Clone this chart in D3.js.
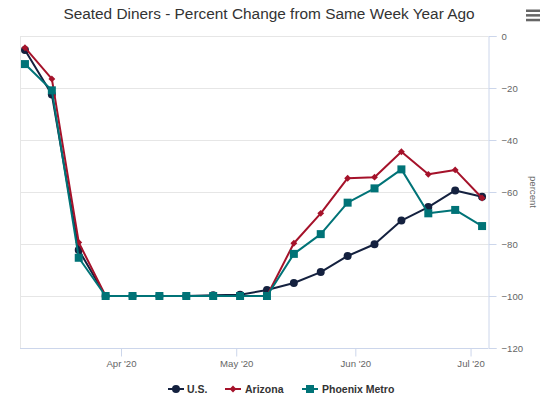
<!DOCTYPE html>
<html>
<head>
<meta charset="utf-8">
<script src="https://cdn.jsdelivr.net/npm/d3@7"></script>
<style>
  html, body { margin: 0; padding: 0; background: #fff; }
  svg { display: block; font-family: "Liberation Sans", Arial, sans-serif; }
</style>
</head>
<body>
<svg id="chart" width="548" height="400"></svg>
<script>
const weeks = ["2020-03-07","2020-03-14","2020-03-21","2020-03-28","2020-04-04","2020-04-11","2020-04-18","2020-04-25","2020-05-02","2020-05-09","2020-05-16","2020-05-23","2020-05-30","2020-06-06","2020-06-13","2020-06-20","2020-06-27","2020-07-04"];
const usValues      = [-5.4, -22.5, -82.3, -100, -100, -100, -100, -99.7, -99.5, -97.7, -95, -90.8, -84.6, -80.1, -71, -65.8, -59.4, -61.8];
const arizonaValues = [-4.5, -16.5, -79.4, -100, -100, -100, -100, -100, -100, -100, -79.7, -68.2, -54.7, -54.3, -44.5, -53.2, -51.5, -62.3];
const phoenixValues = [-10.8, -20.9, -85.3, -100, -100, -100, -100, -100, -100, -100, -83.8, -76.2, -64.1, -58.6, -51.3, -68.2, -66.9, -73.1];
const seriesNames = ["U.S.", "Arizona", "Phoenix Metro"];
const yTicks = [0, -20, -40, -60, -80, -100, -120];
const xTickDates = ["2020-04-01","2020-05-01","2020-06-01","2020-07-01"];
const titleText = "Seated Diners - Percent Change from Same Week Year Ago";
const yAxisTitle = "percent";

const colors = ["#14213f", "#a5122a", "#007377"];
const symbols = ["circle", "diamond", "square"];

const parse = d3.timeParse("%Y-%m-%d");
const dates = weeks.map(parse);
const series = [usValues, arizonaValues, phoenixValues].map((vals, i) => ({
  name: seriesNames[i], color: colors[i], symbol: symbols[i],
  points: vals.map((v, j) => ({ date: dates[j], value: v }))
}));

const svg = d3.select("#chart");
const pLeft = 20, pRight = 488, pTop = 36, pBottom = 348;
const labelFont = 9.6;

const x = d3.scaleTime()
  .domain([new Date(2020, 2, 5, 17), new Date(2020, 6, 5, 13)])
  .range([pLeft, pRight]);
const y = d3.scaleLinear().domain([-120, 0]).range([pBottom, pTop]);

// title
svg.append("text")
  .attr("x", 269).attr("y", 19)
  .attr("text-anchor", "middle")
  .attr("font-size", 15.4).attr("fill", "#333")
  .text(titleText);

// hamburger
[10.7, 15.3, 20].forEach(yy => {
  svg.append("rect").attr("x", 526).attr("y", yy - 1.2).attr("width", 14).attr("height", 2.5).attr("fill", "#666");
});

// gridlines
svg.append("g").selectAll("line").data(yTicks).join("line")
  .attr("x1", pLeft).attr("x2", pRight)
  .attr("y1", d => Math.round(y(d)) + 0.5).attr("y2", d => Math.round(y(d)) + 0.5)
  .attr("stroke", "#e6e6e6").attr("stroke-width", 1);

// left plot border
svg.append("line").attr("x1", pLeft + 0.5).attr("x2", pLeft + 0.5).attr("y1", pTop).attr("y2", pBottom)
  .attr("stroke", "#e6e6e6");

// right y axis
const yAxis = d3.axisRight(y).tickValues(yTicks).tickSize(8).tickPadding(4).tickFormat(d3.format("d"));
const gy = svg.append("g").attr("transform", `translate(${pRight + 0.5},0)`).call(yAxis);
gy.select(".domain").attr("stroke", "#ccd6eb");
gy.selectAll(".tick line").attr("stroke", "#ccd6eb");
gy.selectAll(".tick text").attr("fill", "#666").attr("font-size", labelFont).attr("font-family", "Liberation Sans, Arial, sans-serif").attr("x", 13);

svg.append("text")
  .attr("transform", `translate(530,${(pTop + pBottom) / 2}) rotate(90)`)
  .attr("text-anchor", "middle").attr("font-size", labelFont).attr("fill", "#666")
  .text(yAxisTitle);

// x axis
const xAxis = d3.axisBottom(x).tickValues(xTickDates.map(parse)).tickSize(8).tickPadding(4)
  .tickFormat(d3.timeFormat("%b '%y"));
const gx = svg.append("g").attr("transform", `translate(0,${pBottom + 0.5})`).call(xAxis);
gx.select(".domain").attr("stroke", "#ccd6eb").attr("d", `M${pLeft},0H${pRight}`);
gx.selectAll(".tick line").attr("stroke", "#ccd6eb");
gx.selectAll(".tick text").attr("fill", "#666").attr("font-size", labelFont).attr("font-family", "Liberation Sans, Arial, sans-serif");

// lines
const line = d3.line().x(d => x(d.date)).y(d => y(d.value));
const symMap = { circle: d3.symbolCircle, diamond: d3.symbolDiamond2, square: d3.symbolSquare };
const symSize = { circle: 50, diamond: 30, square: 64 };

series.forEach(s => {
  const g = svg.append("g");
  g.append("path").datum(s.points).attr("d", line)
    .attr("fill", "none").attr("stroke", s.color).attr("stroke-width", 2).attr("stroke-linejoin", "round");
  g.selectAll("path.pt").data(s.points).join("path").attr("class", "pt")
    .attr("transform", d => `translate(${x(d.date)},${y(d.value)})`)
    .attr("d", d3.symbol().type(symMap[s.symbol]).size(symSize[s.symbol]))
    .attr("fill", s.color);
});

// legend
const legendItems = [
  { sx: 176, tx: 187 },
  { sx: 233, tx: 245 },
  { sx: 310, tx: 322 }
];
const ly = 389;
series.forEach((s, i) => {
  const it = legendItems[i];
  svg.append("line").attr("x1", it.sx - 8).attr("x2", it.sx + 8).attr("y1", ly).attr("y2", ly)
    .attr("stroke", s.color).attr("stroke-width", 2);
  svg.append("path").attr("transform", `translate(${it.sx},${ly})`)
    .attr("d", d3.symbol().type(symMap[s.symbol]).size(symSize[s.symbol]))
    .attr("fill", s.color);
  svg.append("text").attr("x", it.tx).attr("y", ly + 4)
    .attr("font-size", 10.5).attr("font-weight", "bold").attr("fill", "#333")
    .text(s.name);
});
</script>
</body>
</html>
